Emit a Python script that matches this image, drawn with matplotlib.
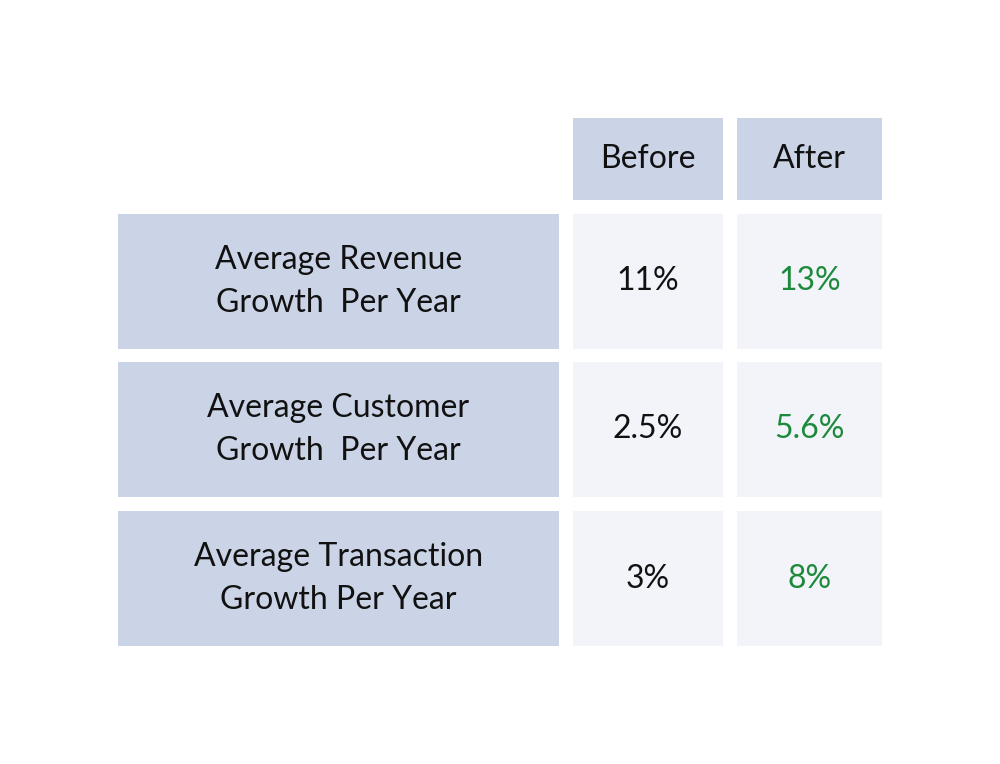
import matplotlib.pyplot as plt
from matplotlib.patches import Rectangle

# table contents
columns = ['Before', 'After']
metrics = ['Average Revenue\nGrowth  Per Year',
           'Average Customer\nGrowth  Per Year',
           'Average Transaction\nGrowth Per Year']
before = ['11%', '2.5%', '3%']
after = ['13%', '5.6%', '8%']

plt.rcParams['font.family'] = ['Lato', 'DejaVu Sans']

fig = plt.figure(figsize=(10, 7.64), dpi=100)
ax = fig.add_axes([0, 0, 1, 1])
ax.set_xlim(0, 1000)
ax.set_ylim(764, 0)
ax.axis('off')

dark = '#cbd4e7'
light = '#f2f4fa'
green = '#1c8a3a'

# layout in pixels
label_x, label_w = 118, 441
col_x = [573, 737]
col_w = [150, 145]
head_y, head_h = 118, 82
row_y = [214, 362, 511]
row_h = 135

def cell(x, y, w, h, color, text, tcolor='#111111'):
    ax.add_patch(Rectangle((x, y), w, h, facecolor=color, edgecolor='none'))
    ax.text(x + w / 2, y + h / 2, text, ha='center', va='center',
            fontsize=23, color=tcolor, linespacing=1.55)

for j, name in enumerate(columns):
    cell(col_x[j], head_y, col_w[j], head_h, dark, name)

for i, m in enumerate(metrics):
    cell(label_x, row_y[i], label_w, row_h, dark, m)
    cell(col_x[0], row_y[i], col_w[0], row_h, light, before[i])
    cell(col_x[1], row_y[i], col_w[1], row_h, light, after[i], green)

fig.savefig('out.png', dpi=100, facecolor='white')
